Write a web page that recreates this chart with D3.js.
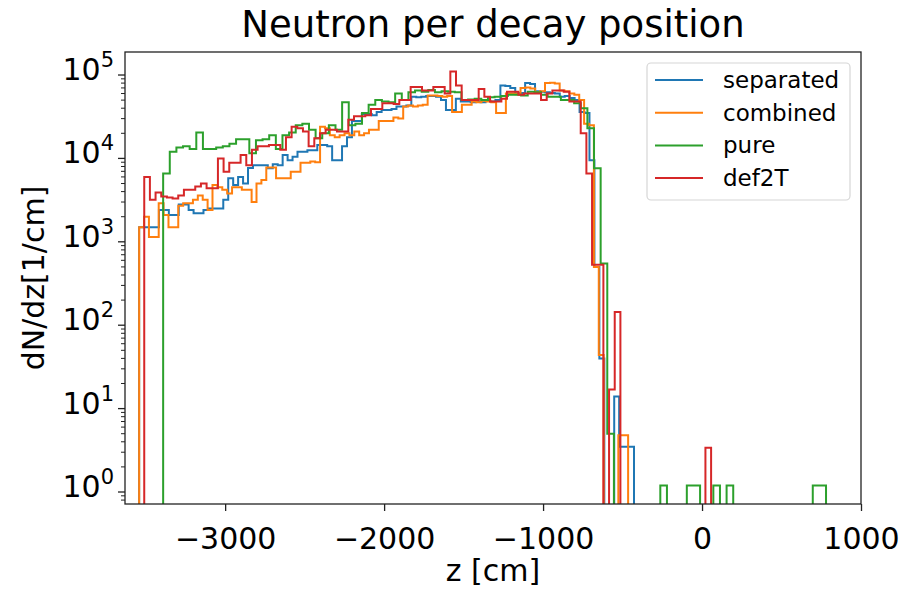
<!DOCTYPE html>
<html>
<head>
<meta charset="utf-8">
<script src="https://cdn.jsdelivr.net/npm/d3@7"></script>
<style>
body { margin: 0; background: #fff; }
svg text { font-family: "DejaVu Sans", sans-serif; fill: #000; }
</style>
</head>
<body>
<svg id="chart" width="900" height="589"></svg>
<script>
// series names + colours (matplotlib tab10)
var seriesNames = ["separated", "combined", "pure", "def2T"];
var seriesColors = ["#1f77b4", "#ff7f0e", "#2ca02c", "#d62728"];

// each histogram has its own range, 100 bins, z in cm
var seriesRange = [[-3541, -428], [-3541, -465], [-3390, 780], [-3509, 57]];

// dN/dz per bin (0 = empty bin)
var separatedVals = [1500,1500,1500,1500,2400,2400,2100,2100,2800,2800,
  2400,2200,2200,2400,2500,2500,2500,3200,5800,4800,
  6000,5000,7700,8300,8300,8300,7600,8500,8300,11000,
  9500,10500,12000,12000,12500,12500,14500,14500,14000,9500,
  9500,14000,18000,28000,28000,34000,34000,33000,36000,38000,
  38000,39000,42000,42000,43000,55000,54000,55000,56000,56000,
  55000,50000,38000,38000,52000,48000,48000,47000,48000,47000,
  49000,48000,50000,75000,74000,70000,60000,61000,80000,78000,
  64000,63000,62000,61000,60000,55000,56000,53000,50000,36000,
  35000,9500,500,40,0,0,14,3.5,3.5,3.5];

var combinedVals = [1500,2000,1140,1140,2900,2100,1500,1500,2700,2900,
  2900,3200,3600,3200,2400,4800,4500,4200,3800,4500,
  4500,4200,4200,3000,5000,5500,7800,7800,5800,5800,
  5800,6900,6900,8900,8900,9200,9000,24000,23000,19000,
  18000,19000,20000,19000,21000,19000,20000,22000,22000,28000,
  28000,28000,31000,30000,42000,43000,42000,43000,44000,57000,
  57000,56000,55000,56000,36000,36000,44000,44000,48000,47000,
  49000,48000,47000,35000,35000,60000,60000,59000,70000,71000,
  69000,62000,64000,80000,81000,79000,65000,64000,60000,58000,
  50000,26000,25000,500,44,0,0,0,4.8,4.8];

var pureVals = [6600,12000,13500,14000,13000,20500,13000,13000,13500,14000,
  15000,17000,17000,11500,16500,17000,19000,13000,19000,20500,
  25000,26000,22000,17500,20000,25000,22000,47000,25000,26000,
  35000,44000,50000,48000,47000,60000,50000,62000,65000,63000,
  66000,62000,64000,63000,62000,50000,51000,52000,50000,54000,
  55000,56000,58000,58000,57000,63000,62000,58000,55000,55000,
  50000,50000,46000,40000,23000,7600,550,5,0,0,
  0,0,0,0,0,1.2,0,0,0,1.2,
  1.2,0,0,1.2,0,1.2,0,0,0,0,
  0,0,0,0,0,0,0,0,1.2,1.2];

var def2TVals = [6000,3200,3900,3500,3400,3300,3600,4200,4200,4600,
  5000,4400,4400,10000,6900,8900,8900,11000,8300,12700,
  14000,14000,14500,14500,12700,18000,24000,23000,21000,14000,
  17500,20000,22000,22000,21000,21000,29000,32000,32000,33000,
  39000,39000,46000,46000,45000,50000,50000,72000,72000,65000,
  65000,72000,72000,60000,110000,75000,50000,50000,50000,68000,
  55000,48000,48000,52000,63000,63000,58000,60000,60000,60000,
  50000,60000,65000,65000,63000,48000,48000,20000,6600,530,
  530,0,17,144,0,0,0,0,0,0,
  0,0,0,0,0,0,0,0,0,3.4];

var seriesVals = [separatedVals, combinedVals, pureVals, def2TVals];

var xTicks = [-3000, -2000, -1000, 0, 1000];
var yExps = [0, 1, 2, 3, 4, 5];

var svg = d3.select("#chart");
var pLeft = 125, pRight = 861, pTop = 52, pBottom = 504;

var x = d3.scaleLinear().domain([-3630, 1000]).range([pLeft, pRight]);
var y = d3.scaleLog().domain([0.718, 1.888e5]).range([pBottom, pTop]);

svg.append("defs").append("clipPath").attr("id", "plotclip")
  .append("rect").attr("x", pLeft).attr("y", pTop)
  .attr("width", pRight - pLeft).attr("height", pBottom - pTop);

function yv(v){
  // empty bins fall below the axis like matplotlib's clipped log
  if(v > 0) return y(v);
  return pBottom + 60;
}

function stepPoints(vals, range){
  var n = vals.length;
  var w = (range[1] - range[0]) / n;
  var pts = [[x(range[0]), pBottom + 60]];
  for(var i = 0; i < n; i++){
    pts.push([x(range[0] + i * w), yv(vals[i])]);
    pts.push([x(range[0] + (i + 1) * w), yv(vals[i])]);
  }
  pts.push([x(range[1]), pBottom + 60]);
  return pts;
}

var g_hist = svg.append("g").attr("clip-path", "url(#plotclip)");
var line = d3.line();
for(var s = 0; s < seriesNames.length; s++){
  g_hist.append("path")
    .attr("d", line(stepPoints(seriesVals[s], seriesRange[s])))
    .attr("fill", "none")
    .attr("stroke", seriesColors[s])
    .attr("stroke-width", 2)
    .attr("stroke-linejoin", "miter");
}

// axes frame
svg.append("rect").attr("x", pLeft).attr("y", pTop)
  .attr("width", pRight - pLeft).attr("height", pBottom - pTop)
  .attr("fill", "none").attr("stroke", "#222").attr("stroke-width", 1.3);

// x axis
var xAxis = d3.axisBottom(x).tickValues(xTicks).tickSize(7)
  .tickFormat(function(d){ return d < 0 ? "\u2212" + Math.abs(d) : d; });
var gx = svg.append("g").attr("transform", "translate(0," + pBottom + ")").call(xAxis);
gx.select(".domain").remove();
gx.selectAll("line").attr("stroke", "#222").attr("stroke-width", 1.3);
gx.selectAll("text").attr("font-size", 30).attr("dy", 0).attr("y", 45)
  .attr("fill", "#000").attr("font-family", "DejaVu Sans");

// y axis, log with minor ticks
var g_y = svg.append("g");
for(var k = -1; k <= 5; k++){
  for(var m = 1; m <= 9; m++){
    var v = m * Math.pow(10, k);
    if(v < y.domain()[0] || v > y.domain()[1]) continue;
    var len = (m == 1) ? 7 : 4;
    g_y.append("line")
      .attr("x1", pLeft - len).attr("x2", pLeft)
      .attr("y1", y(v)).attr("y2", y(v))
      .attr("stroke", "#222").attr("stroke-width", m == 1 ? 1.3 : 1);
  }
}
for(var e of yExps){
  var t = g_y.append("text")
    .attr("x", 114).attr("y", y(Math.pow(10, e)) + 5)
    .attr("text-anchor", "end").attr("font-size", 30);
  t.append("tspan").text("10");
  t.append("tspan").attr("dy", -13).attr("font-size", 21).text(e);
}

// title + labels
svg.append("text").attr("x", (pLeft + pRight) / 2).attr("y", 37)
  .attr("text-anchor", "middle").attr("font-size", 37)
  .text("Neutron per decay position");
svg.append("text").attr("x", (pLeft + pRight) / 2).attr("y", 581)
  .attr("text-anchor", "middle").attr("font-size", 30)
  .text("z [cm]");
svg.append("text")
  .attr("transform", "translate(44," + ((pTop + pBottom) / 2) + ") rotate(-90)")
  .attr("text-anchor", "middle").attr("font-size", 30)
  .text("dN/dz[1/cm]");

// legend
var g_leg = svg.append("g");
g_leg.append("rect").attr("x", 647).attr("y", 63)
  .attr("width", 203).attr("height", 137).attr("rx", 4)
  .attr("fill", "#fff").attr("fill-opacity", 0.8)
  .attr("stroke", "#d6d6d6").attr("stroke-width", 1.2);
for(var s = 0; s < seriesNames.length; s++){
  var ly = 80 + s * 32.7;
  g_leg.append("line").attr("x1", 655).attr("x2", 703)
    .attr("y1", ly).attr("y2", ly)
    .attr("stroke", seriesColors[s]).attr("stroke-width", 2);
  g_leg.append("text").attr("x", 723).attr("y", ly + 8)
    .attr("font-size", 23).text(seriesNames[s]);
}
</script>
</body>
</html>
